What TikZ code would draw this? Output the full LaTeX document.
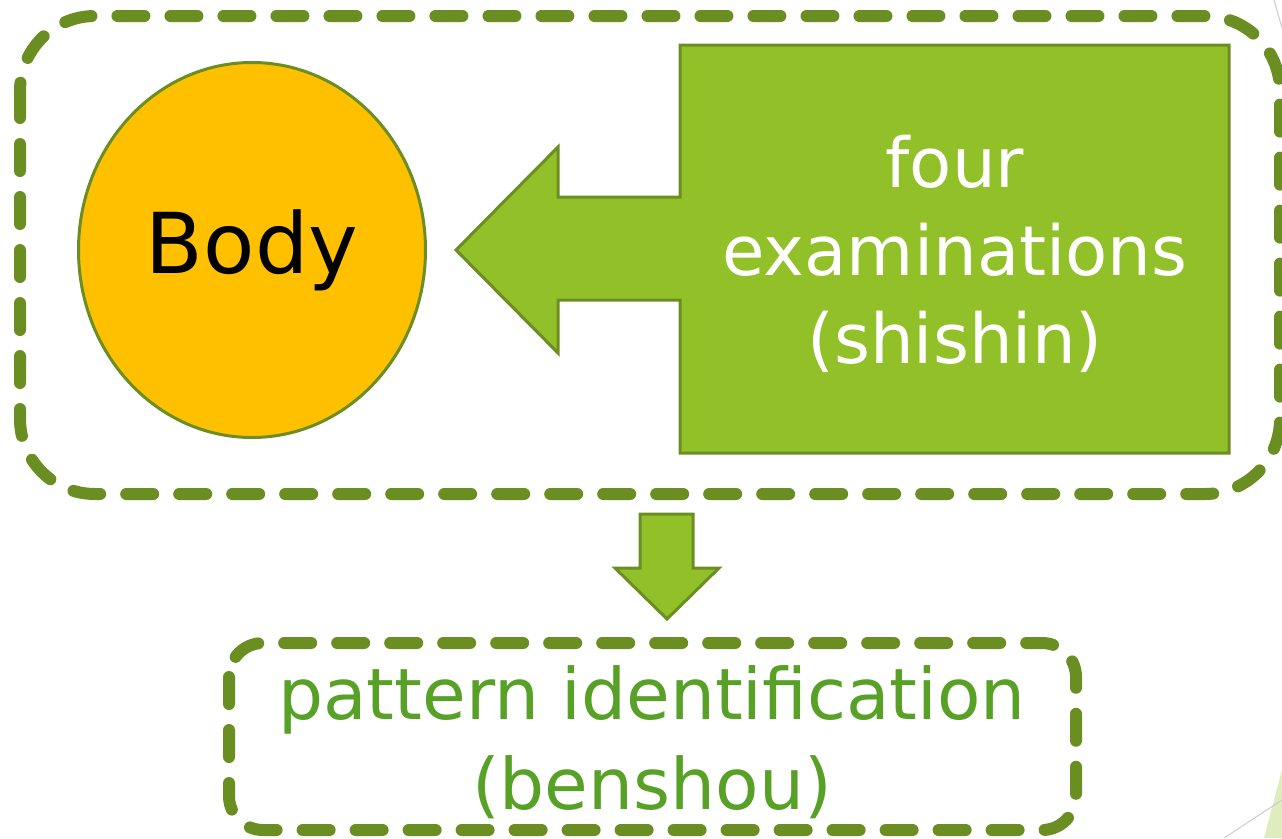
\documentclass[tikz,border=0pt]{standalone}
\usepackage{fontspec}
\setmainfont{DejaVu Sans}
\usetikzlibrary{shapes.geometric}
\definecolor{olive}{HTML}{6B8E23}
\definecolor{leaf}{HTML}{92C028}
\definecolor{gold}{HTML}{FFC000}
\definecolor{textgreen}{HTML}{58A127}
\tikzset{
  dashbox/.style={draw=olive,line width=12pt,line cap=round,dash pattern=on 27pt off 26pt},
  blockarrow/.style={draw=olive,fill=leaf,line width=3pt,line join=miter},
}
\begin{document}
\begin{tikzpicture}[x=1pt,y=-1pt]
  \useasboundingbox (0,0) rectangle (1282,838);
  % faint slide decoration
  \fill[leaf!30] (1282,770) -- (1264,838) -- (1282,838) -- cycle;
  \draw[black!20,line width=1pt] (1224,838) -- (1282,800);
  \draw[black!20,line width=1pt] (1274,0) -- (1282,28);
  % top group
  \draw[dashbox,rounded corners=75pt] (20,16) rectangle (1280,494);
  \node[ellipse,draw=olive,fill=gold,line width=3pt,minimum width=347pt,minimum height=375pt,
        font=\fontsize{84}{88}\selectfont] (body) at (252,250) {\raisebox{-9pt}{Body}};
  \draw[blockarrow] (680,45) -- (1229,45) -- (1229,453) -- (680,453) -- (680,300) -- (558,300)
        -- (558,353) -- (456,250) -- (558,147) -- (558,197) -- (680,197) -- cycle;
  \node[align=center,text=white,font=\fontsize{69}{88}\selectfont] (exam) at (955,254)
        {four\\examinations\\(shishin)};
  % result
  \draw[blockarrow] (640,514) -- (693,514) -- (693,568) -- (719,568) -- (667,619)
        -- (615,568) -- (640,568) -- cycle;
  \draw[dashbox,rounded corners=34pt] (229,643) rectangle (1076,830);
  \node[align=center,text=textgreen,font=\fontsize{71}{90}\selectfont] (pattern) at (652,742)
        {pattern identification\\(benshou)};
\end{tikzpicture}
\end{document}
